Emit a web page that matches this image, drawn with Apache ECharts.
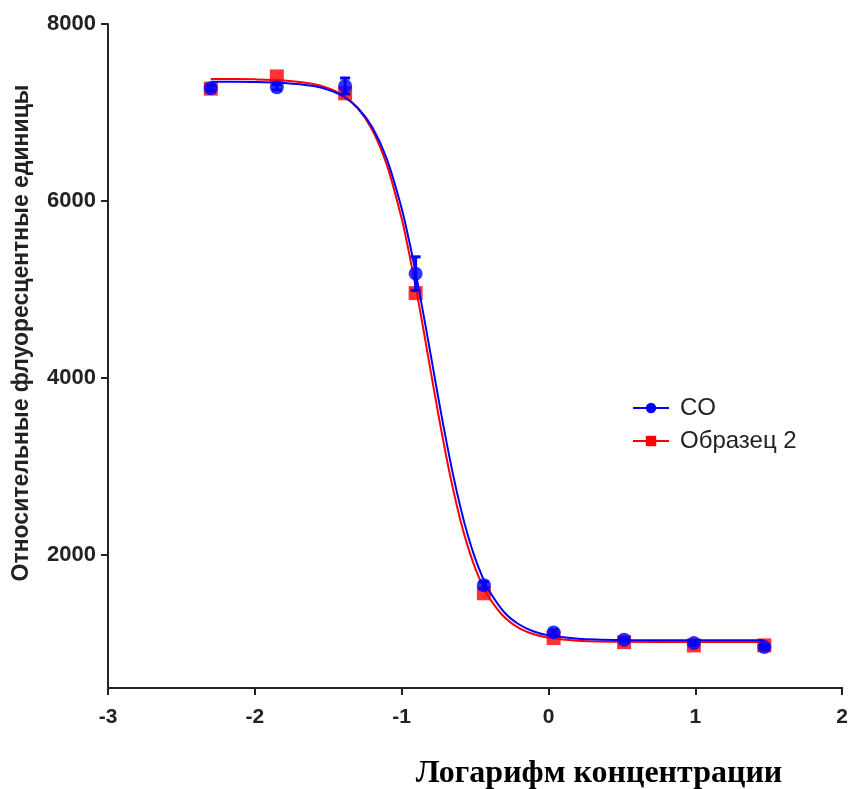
<!DOCTYPE html>
<html>
<head>
<meta charset="utf-8">
<script src="https://cdn.jsdelivr.net/npm/echarts@6/dist/echarts.min.js"></script>
<style>
  html, body { margin: 0; padding: 0; background: #ffffff; }
  #chart { width: 851px; height: 789px; }
</style>
</head>
<body>
<div id="chart"></div>
<script>
// Log concentration of each dilution step
var logConc = [-2.3, -1.85, -1.385, -0.905, -0.44, 0.035, 0.515, 0.99, 1.47];

// Mean signal, reference sample (CO)
var coMean = [7275, 7285, 7300, 5180, 1660, 1128, 1045, 1007, 962];
// Standard deviation, reference sample
var coErr = [30, 30, 90, 190, 40, 30, 20, 20, 20];

// Mean signal, sample 2
var s2Mean = [7270, 7408, 7217, 4960, 1570, 1064, 1018, 981, 981];

// Fitted dose-response curve, sampled along the x axis
var curveX = [-2.3, -2.0, -1.8, -1.6, -1.5, -1.4, -1.3, -1.2, -1.1, -1.0, -0.95, -0.9, -0.85, -0.8,
              -0.75, -0.7, -0.65, -0.6, -0.55, -0.5, -0.45, -0.4, -0.3, -0.2, -0.1, 0.0, 0.2, 0.5, 1.0, 1.47];
var coCurve = [7349, 7345, 7334, 7299, 7257, 7184, 7054, 6833, 6470, 5916, 5557, 5151, 4706, 4243,
               3773, 3325, 2910, 2543, 2228, 1967, 1755, 1587, 1353, 1217, 1138, 1095, 1057, 1043, 1040, 1040];
var s2Curve = [7380, 7375, 7363, 7323, 7276, 7194, 7050, 6803, 6403, 5802, 5418, 4992, 4532, 4057,
               3589, 3146, 2746, 2396, 2100, 1858, 1663, 1510, 1299, 1176, 1107, 1068, 1035, 1022, 1020, 1020];

// Axis ticks
var xTicks = [-3, -2, -1, 0, 1, 2];
var yTicks = [2000, 4000, 6000, 8000];

var seriesNames = ['CO', 'Образец 2'];
var BLUE = '#0000ff';
var RED = '#ff0000';
var INK = '#222222';

function pairs(xs, ys) {
  return xs.map(function (x, i) { return [x, ys[i]]; });
}

var errData = logConc.map(function (x, i) { return [x, coMean[i] - coErr[i], coMean[i] + coErr[i]]; });

var chart = echarts.init(document.getElementById('chart'), null, { renderer: 'canvas' });

chart.setOption({
  animation: false,
  backgroundColor: '#ffffff',
  grid: { left: 108, right: 5, top: 24, bottom: 101, containLabel: false },
  xAxis: {
    type: 'value',
    min: xTicks[0],
    max: xTicks[xTicks.length - 1],
    interval: 1,
    axisLine: { show: true, lineStyle: { color: INK, width: 2 } },
    axisTick: { show: true, inside: false, length: 7, lineStyle: { color: INK, width: 2 } },
    axisLabel: {
      show: true, margin: 19, color: INK,
      fontFamily: 'Liberation Sans, Arial, sans-serif', fontWeight: 'bold', fontSize: 21,
      formatter: function (v) { return String(v); }
    },
    splitLine: { show: false }
  },
  yAxis: {
    type: 'value',
    min: 500,
    max: 8000,
    axisLine: { show: true, onZero: false, lineStyle: { color: INK, width: 2 } },
    axisTick: { show: true, inside: false, length: 7, customValues: yTicks, lineStyle: { color: INK, width: 2 } },
    axisLabel: {
      show: true, margin: 12, color: INK, customValues: yTicks,
      fontFamily: 'Liberation Sans, Arial, sans-serif', fontWeight: 'bold', fontSize: 22,
      formatter: function (v) { return String(v); }
    },
    splitLine: { show: false }
  },
  legend: {
    data: seriesNames,
    orient: 'vertical',
    left: 627,
    top: 391,
    itemWidth: 36,
    itemHeight: 13,
    itemGap: 9,
    selectedMode: false,
    textStyle: { color: INK, fontSize: 24, fontFamily: 'Liberation Sans, Arial, sans-serif', padding: [0, 0, 0, 6] }
  },
  graphic: [
    {
      type: 'text',
      x: 22, y: 333,
      rotation: Math.PI / 2,
      style: {
        text: 'Относительные флуоресцентные единицы',
        fill: INK,
        font: 'bold 23px "Liberation Sans", Arial, sans-serif',
        align: 'center',
        verticalAlign: 'middle'
      }
    },
    {
      type: 'text',
      x: 599, y: 774,
      style: {
        text: 'Логарифм концентрации',
        fill: '#000000',
        font: 'bold 32px "Liberation Serif", "Times New Roman", serif',
        align: 'center',
        verticalAlign: 'middle'
      }
    }
  ],
  series: [
    {
      name: 'Образец 2',
      type: 'line',
      data: pairs(curveX, s2Curve),
      smooth: 0.3,
      showSymbol: false,
      symbol: 'rect',
      symbolSize: 13,
      itemStyle: { color: RED },
      lineStyle: { color: RED, width: 2 },
      z: 2
    },
    {
      name: 'Образец 2 (точки)',
      type: 'scatter',
      data: pairs(logConc, s2Mean),
      symbol: 'rect',
      symbolSize: 14,
      itemStyle: { color: RED },
      z: 3
    },
    {
      name: 'CO',
      type: 'line',
      data: pairs(curveX, coCurve),
      smooth: 0.3,
      showSymbol: false,
      symbol: 'circle',
      symbolSize: 13,
      itemStyle: { color: BLUE },
      lineStyle: { color: BLUE, width: 2 },
      z: 4
    },
    {
      name: 'CO (SD)',
      type: 'custom',
      data: errData,
      z: 5,
      renderItem: function (params, api) {
        var x = api.value(0);
        var lo = api.coord([x, api.value(1)]);
        var hi = api.coord([x, api.value(2)]);
        var half = 5;
        var style = { stroke: BLUE, lineWidth: 3 };
        return {
          type: 'group',
          children: [
            { type: 'line', shape: { x1: hi[0], y1: hi[1], x2: lo[0], y2: lo[1] }, style: style },
            { type: 'line', shape: { x1: hi[0] - half, y1: hi[1], x2: hi[0] + half, y2: hi[1] }, style: style },
            { type: 'line', shape: { x1: lo[0] - half, y1: lo[1], x2: lo[0] + half, y2: lo[1] }, style: style }
          ]
        };
      }
    },
    {
      name: 'CO (точки)',
      type: 'scatter',
      data: pairs(logConc, coMean),
      symbol: 'circle',
      symbolSize: 14,
      itemStyle: { color: BLUE },
      z: 6
    }
  ]
});
</script>
</body>
</html>
